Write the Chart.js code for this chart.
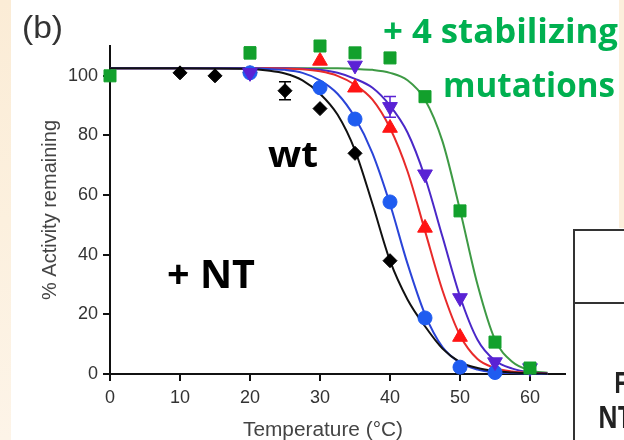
<!DOCTYPE html>
<html><head><meta charset="utf-8">
<script src="https://cdn.jsdelivr.net/npm/chart.js@4"></script>
<style>html,body{margin:0;padding:0;background:#fff;}#wrap{width:624px;height:440px;}</style>
</head><body><div id="wrap"><canvas id="c" width="624" height="440"></canvas></div>
<script>
// ---- tick labels ----
const tempTicks = [0, 10, 20, 30, 40, 50, 60];
const activityTicks = [0, 20, 40, 60, 80, 100];

// ---- measured points (temperature °C, % activity) ----
const wtTemp = [10, 15, 20, 25, 30, 35, 40];
const wtAct  = [101, 100, 101, 95, 89, 74, 38];
const wtErr  = [0, 0, 0, 3, 0, 0, 0];

const ntTemp = [20, 30, 35, 40, 45, 50, 55];
const ntAct  = [101, 96, 85.5, 57.7, 18.8, 2.3, 0.5];

const redTemp = [30, 35, 40, 45, 50];
const redAct  = [105, 96, 82.5, 49, 12.4];

const purpleTemp = [20, 35, 40, 45, 50, 55, 60];
const purpleAct  = [101, 103.5, 89.6, 67, 25.5, 4, 2];
const purpleErr  = [0, 0, 3.5, 0, 0, 0, 0];

const stabTemp = [0, 20, 30, 35, 40, 45, 50, 55, 60];
const stabAct  = [100, 107.7, 110, 107.7, 106, 93, 54.7, 10.7, 2];
const stabErr  = [0, 2, 0, 0, 0, 0, 0, 0, 0];

// ---- fitted curves ----
const fitTemp   = [0, 10, 20, 22.5, 25, 27.5, 30, 32.5, 35, 37.5, 40, 42.5, 45, 47.5, 50, 52.5, 55, 57.5, 60, 62.5];
const wtFit     = [102.5, 102.5, 102.3, 101.8, 100.8, 98.5, 94, 87, 75, 57, 38, 25, 16, 8.5, 4, 2, 1, 0.5, 0.2, 0.1];
const ntFit     = [102.5, 102.5, 102.5, 102.3, 102, 101, 98.5, 94, 86, 74, 57, 37, 20, 9, 3.8, 1.5, 0.6, 0.3, 0.1, 0];
const redFit    = [102.5, 102.5, 102.5, 102.5, 102.4, 102.2, 101.5, 100, 97, 92, 82.5, 68, 48, 28, 13, 5, 2, 0.8, 0.3, 0.1];
const purpleFit = [102.5, 102.5, 102.5, 102.5, 102.5, 102.4, 102, 101, 99, 96, 90, 81, 66, 46, 26, 11.5, 4.5, 1.8, 0.6, 0.2];
const stabFit   = [102.5, 102.5, 102.5, 102.5, 102.5, 102.5, 102.5, 102.5, 102.3, 102, 101, 98.5, 92, 78, 55, 30, 11.5, 4, 1.2, 0.4];

const pts = (xs, ys) => xs.map((x, i) => ({x: x, y: ys[i]}));

function markerSet(xs, ys, color, style, radius, order, rotation, errs) {
  return {
    data: pts(xs, ys), showLine: false, pointStyle: style, pointRadius: radius,
    pointRotation: rotation || 0, backgroundColor: color, borderColor: color,
    borderWidth: 1, order: order, errs: errs || null, clip: false
  };
}
function curveSet(ys, color) {
  return {
    data: pts(fitTemp, ys), showLine: true, pointRadius: 0, borderColor: color,
    borderWidth: 2, cubicInterpolationMode: 'monotone', fill: false, order: 10, clip: false
  };
}

const bgPlugin = {
  id: 'bg',
  beforeDraw(chart) {
    const ctx = chart.ctx;
    ctx.save();
    ctx.fillStyle = '#ffffff';
    ctx.fillRect(0, 0, 624, 440);
    const g = ctx.createLinearGradient(0, 0, 0, 440);
    g.addColorStop(0, '#fbecd6'); g.addColorStop(0.5, '#fcf0de'); g.addColorStop(1, '#fdf4e8');
    ctx.fillStyle = g;
    ctx.fillRect(0, 0, 11, 440);
    ctx.fillStyle = '#fcefdc';
    ctx.fillRect(619, 0, 5, 228);
    ctx.restore();
  }
};

const errPlugin = {
  id: 'errs',
  afterDatasetsDraw(chart) {
    const ctx = chart.ctx, ys = chart.scales.y;
    ctx.save();
    chart.data.datasets.forEach((ds, di) => {
      if (!ds.errs) return;
      const meta = chart.getDatasetMeta(di);
      ds.errs.forEach((e, i) => {
        if (!e) return;
        const el = meta.data[i];
        const yTop = ys.getPixelForValue(ds.data[i].y + e);
        const yBot = ys.getPixelForValue(ds.data[i].y - e);
        ctx.strokeStyle = ds.borderColor; ctx.lineWidth = 1.5;
        ctx.beginPath();
        ctx.moveTo(el.x, yTop); ctx.lineTo(el.x, yBot);
        ctx.moveTo(el.x - 6, yTop); ctx.lineTo(el.x + 6, yTop);
        ctx.moveTo(el.x - 6, yBot); ctx.lineTo(el.x + 6, yBot);
        ctx.stroke();
      });
    });
    ctx.restore();
  }
};

function fitText(ctx, text, x, baseline, width, font, color) {
  ctx.save();
  ctx.font = font;
  const w = ctx.measureText(text).width;
  ctx.translate(x, baseline);
  ctx.scale(width / w, 1);
  ctx.fillStyle = color;
  ctx.textAlign = 'left';
  ctx.textBaseline = 'alphabetic';
  ctx.fillText(text, 0, 0);
  ctx.restore();
}

const annoPlugin = {
  id: 'anno',
  afterDraw(chart) {
    const ctx = chart.ctx;
    fitText(ctx, '(b)', 22, 38, 41, '32px "Liberation Sans"', '#333');
    fitText(ctx, '+ 4 stabilizing', 383, 43, 235, 'bold 34px "Open Sans"', '#00b050');
    fitText(ctx, 'mutations', 443, 97, 172, 'bold 34px "Open Sans"', '#00b050');
    fitText(ctx, 'wt', 268, 167, 50, 'bold 36px "Open Sans"', '#000');
    fitText(ctx, '+ NT', 167, 288, 88, 'bold 40px "Open Sans"', '#000');
    fitText(ctx, 'Temperature (°C)', 243, 436, 160, '20px "Liberation Sans"', '#444');
    // partial table at bottom right
    ctx.save();
    ctx.strokeStyle = '#333'; ctx.lineWidth = 2;
    ctx.beginPath();
    ctx.moveTo(574, 440); ctx.lineTo(574, 230); ctx.lineTo(624, 230);
    ctx.moveTo(574, 303); ctx.lineTo(624, 303);
    ctx.stroke();
    ctx.restore();
    fitText(ctx, 'F', 614, 393, 12, 'bold 28px "Open Sans"', '#222');
    fitText(ctx, 'NT', 598, 428, 34, 'bold 30px "Open Sans"', '#222');
  }
};

const tickFont = {family: '"Liberation Sans", Arial, sans-serif', size: 18};

new Chart(document.getElementById('c'), {
  type: 'scatter',
  data: {
    datasets: [
      markerSet(stabTemp, stabAct, '#12a02c', 'rect', 8.5, 0, 0, stabErr),
      markerSet(purpleTemp, purpleAct, '#5a22d4', 'triangle', 8.5, 1, 180, purpleErr),
      markerSet(redTemp, redAct, '#ff1414', 'triangle', 8.5, 2, 0),
      markerSet(ntTemp, ntAct, '#1f5cf0', 'circle', 7, 3, 0),
      markerSet(wtTemp, wtAct, '#000000', 'rectRot', 7, 4, 0, wtErr),
      curveSet(wtFit, '#111111'),
      curveSet(ntFit, '#2a44d8'),
      curveSet(redFit, '#e82a2a'),
      curveSet(purpleFit, '#4a28c8'),
      curveSet(stabFit, '#3e9a45')
    ]
  },
  options: {
    responsive: false, animation: false, devicePixelRatio: 1,
    layout: {padding: {top: 46, right: 59, left: 0, bottom: 0}},
    plugins: {legend: {display: false}, tooltip: {enabled: false}},
    scales: {
      x: {
        type: 'linear', min: 0, max: 65,
        afterBuildTicks: s => { s.ticks = tempTicks.map(v => ({value: v})); },
        afterFit: s => { s.height = 66; },
        grid: {drawOnChartArea: false, drawTicks: true, tickLength: 7, color: '#111', lineWidth: 2},
        border: {display: true, color: '#111', width: 2},
        ticks: {font: tickFont, color: '#333', padding: 6, maxRotation: 0}
      },
      y: {
        type: 'linear', min: 0, max: 110,
        afterBuildTicks: s => { s.ticks = activityTicks.map(v => ({value: v})); },
        afterFit: s => { s.width = 110; },
        grid: {drawOnChartArea: false, drawTicks: true, tickLength: 7, color: '#111', lineWidth: 2},
        border: {display: true, color: '#111', width: 2},
        ticks: {font: tickFont, color: '#333', padding: 5},
        title: {display: true, text: '% Activity remaining', color: '#444',
                font: {family: '"Liberation Sans", Arial, sans-serif', size: 20},
                padding: {top: 38, bottom: 0}}
      }
    }
  },
  plugins: [bgPlugin, errPlugin, annoPlugin]
});
</script>
</body></html>
